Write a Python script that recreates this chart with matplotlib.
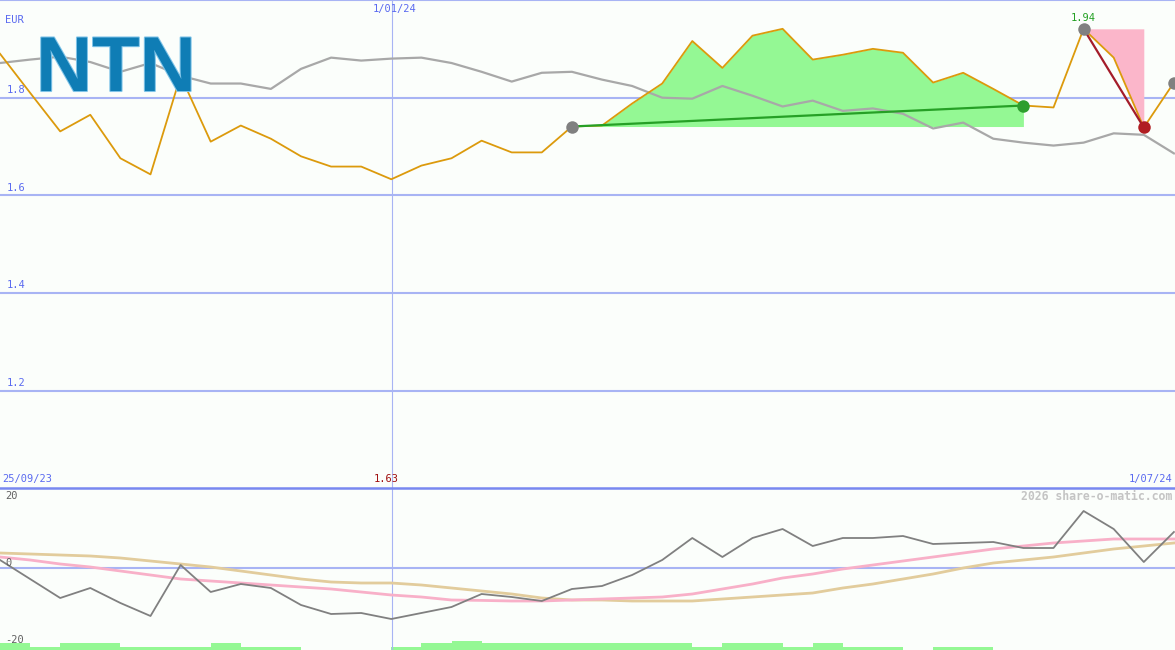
import matplotlib
matplotlib.use("Agg")
import matplotlib.pyplot as plt
import numpy as np
from matplotlib import patheffects as pe

# ---- data (weekly points) ----
price = [1.890, 1.810, 1.731, 1.765, 1.676, 1.643, 1.845, 1.710, 1.743, 1.716,
         1.680, 1.659, 1.659, 1.633, 1.661, 1.676, 1.712, 1.688, 1.688, 1.741,
         1.743, 1.788, 1.829, 1.916, 1.861, 1.927, 1.941, 1.878, 1.888, 1.900,
         1.892, 1.831, 1.851, 1.818, 1.784, 1.780, 1.941, 1.882, 1.739, 1.831]
avg_line = [1.871, 1.878, 1.884, 1.873, 1.853, 1.871, 1.845, 1.829, 1.829, 1.818,
            1.859, 1.882, 1.876, 1.880, 1.882, 1.871, 1.853, 1.833, 1.851, 1.853,
            1.837, 1.824, 1.800, 1.798, 1.824, 1.804, 1.782, 1.794, 1.773, 1.778,
            1.767, 1.737, 1.749, 1.716, 1.708, 1.702, 1.708, 1.727, 1.724, 1.686]
momentum = [2, -2.75, -7.5, -5, -8.75, -12, 0.75, -6, -4, -5,
            -9.25, -11.5, -11.25, -12.75, -11.25, -9.75, -6.5, -7.25, -8.25, -5.25,
            -4.5, -1.75, 2, 7.5, 2.75, 7.5, 9.75, 5.5, 7.5, 7.5,
            8, 6, 6.25, 6.5, 5, 5, 14.25, 9.75, 1.5, 9]
osc_fast = [2.75, 2, 1, 0.25, -0.75, -1.75, -2.75, -3.25, -3.75, -4.25,
            -4.75, -5.25, -6, -6.75, -7.25, -8, -8.1, -8.25, -8.25, -8,
            -7.75, -7.5, -7.25, -6.5, -5.25, -4, -2.5, -1.5, -0.25, 0.75,
            1.75, 2.75, 3.75, 4.75, 5.5, 6.25, 6.75, 7.25, 7.25, 7.25]
osc_slow = [3.75, 3.5, 3.25, 3, 2.5, 1.75, 1, 0.25, -0.75, -1.75,
            -2.75, -3.5, -3.75, -3.75, -4.25, -5, -5.75, -6.5, -7.5, -8,
            -8, -8.25, -8.25, -8.25, -7.75, -7.25, -6.75, -6.25, -5, -4,
            -2.75, -1.5, 0, 1.25, 2, 2.75, 3.75, 4.75, 5.5, 6.25]
volume = [70, 30, 70, 70, 30, 30, 30, 70, 30, 30,
          0, 0, 0, 30, 70, 90, 70, 70, 70, 70,
          70, 70, 70, 30, 70, 70, 30, 70, 30, 30,
          0, 30, 30, 0, 0, 0, 0, 0, 0, 0]
price_ticks = [1.2, 1.4, 1.6, 1.8, 2.0]
osc_ticks = [20, 0, -20]
start_label, end_label, mid_label = "25/09/23", "1/07/24", "1/01/24"
currency = "EUR"
rise_start, rise_end = 19, 34
fall_start, fall_end = 36, 38
max_idx, min_idx, last_idx = 36, 13, 39

# ---- style ----
BG = "#fbfefb"
GRID = "#a8b4f4"
BLUE_TXT = "#5a6af0"
MONO = ["DejaVu Sans Mono"]
W, H = 1175, 650
STEP = 30.1
x = np.arange(len(price))
xmax = W / STEP
jan_pos = 392 / STEP

fig = plt.figure(figsize=(W / 100, H / 100), dpi=100, facecolor=BG)
top_h = 487
ax = fig.add_axes([0, 1 - top_h / H, 1, top_h / H])
axb = fig.add_axes([0, 0, 1, (H - top_h) / H])
for a in (ax, axb):
    a.set_facecolor(BG)
    a.set_xlim(0, xmax)
    for s in a.spines.values():
        s.set_visible(False)
    a.set_xticks([])
    a.set_yticks([])

ax.set_ylim(1.003, 2.0)
axb.set_ylim(-20.5, 20.25)

# grid
for t in price_ticks:
    ax.axhline(t, color=GRID, lw=1.5, zorder=1)
    if t < 2.0:
        ax.annotate(f"{t:.1f}", (0, t), xytext=(5, 2), textcoords="offset points",
                    color=BLUE_TXT, fontsize=7.5, family=MONO, va="bottom", ha="left")
ax.axvline(jan_pos, color=GRID, lw=0.8, zorder=1)
axb.axvline(jan_pos, color=GRID, lw=0.8, zorder=1)
axb.axhline(0, color=GRID, lw=1.5, zorder=1)

# logo
fig.text(36 / W, 1 - 91 / H, "NTN", family=["Liberation Sans"], fontweight="bold",
         fontsize=56, color="#0f7db5", ha="left", va="baseline", zorder=0,
         path_effects=[pe.withStroke(linewidth=1.5, foreground="#80c4e8")])

# fills
xr = x[rise_start:rise_end + 1]
pr = np.array(price[rise_start:rise_end + 1])
ax.fill_between(xr, pr, price[rise_start], where=pr >= price[rise_start],
                interpolate=True, color="#94f894", lw=0, zorder=2)
xf = x[fall_start:fall_end + 1]
pf = np.array(price[fall_start:fall_end + 1])
ax.fill_between(xf, pf, price[fall_start], color="#fbb6ca", lw=0, zorder=2)

# lines
ax.plot(x, avg_line, color="#a8a8a8", lw=1.6, zorder=3)
ax.plot(x, price, color="#dc9a0c", lw=1.3, zorder=4)
ax.plot([rise_start, rise_end], [price[rise_start], price[rise_end]], color="#26a026", lw=1.6, zorder=5)
ax.plot([fall_start, fall_end], [price[fall_start], price[fall_end]], color="#a41c2a", lw=1.6, zorder=5)

# markers
ms = 9
ax.plot(rise_start, price[rise_start], "o", color="#808080", ms=ms, mew=0, zorder=6)
ax.plot(rise_end, price[rise_end], "o", color="#2e9e2e", ms=ms, mew=0, zorder=6)
ax.plot(fall_start, price[fall_start], "o", color="#808080", ms=ms, mew=0, zorder=6)
ax.plot(fall_end, price[fall_end], "o", color="#b01e22", ms=ms, mew=0, zorder=6)
ax.plot(last_idx, price[last_idx], "o", color="#808080", ms=ms, mew=0, zorder=6, clip_on=False)

# labels top
ax.annotate(f"{price[max_idx]:.2f}", (max_idx, price[max_idx]), xytext=(0, 4),
            textcoords="offset points", color="#22a022", fontsize=7.5, family=MONO,
            ha="center", va="bottom", zorder=7)
fig.text(5 / W, 1 - 20 / H, currency, color=BLUE_TXT, fontsize=7.5, family=MONO,
         ha="left", va="center")
fig.text(395 / W, 1 - 9 / H, mid_label, color=BLUE_TXT, fontsize=7.5, family=MONO,
         ha="center", va="center")
fig.text(2 / W, 1 - 479 / H, start_label, color=BLUE_TXT, fontsize=7.5, family=MONO,
         ha="left", va="center")
fig.text(1172 / W, 1 - 479 / H, end_label, color=BLUE_TXT, fontsize=7.5, family=MONO,
         ha="right", va="center")
fig.text(386 / W, 1 - 479 / H, f"{price[min_idx]:.2f}", color="#a01010", fontsize=7.5,
         family=MONO, ha="center", va="center")

# separator
fig.add_artist(plt.Line2D([0, 1], [1 - 487.5 / H] * 2, color="#7888f0", lw=1.8))

# bottom panel
axv = axb.twinx()
axv.set_ylim(0, 1630)
axv.set_yticks([])
for s in axv.spines.values():
    s.set_visible(False)
axv.bar(x, volume, width=1.0, align="edge", color="#94f894", lw=0, zorder=1)
axb.set_zorder(axv.get_zorder() + 1)
axb.patch.set_visible(False)
axv.patch.set_facecolor(BG)

axb.plot(x, osc_slow, color="#e2cc9c", lw=2.0, zorder=3)
axb.plot(x, osc_fast, color="#f8b0c8", lw=2.0, zorder=3)
axb.plot(x, momentum, color="#808080", lw=1.3, zorder=4)

fig.text(5 / W, 1 - 496 / H, f"{osc_ticks[0]}", color="#606060", fontsize=7.5, family=MONO,
         ha="left", va="center")
fig.text(5 / W, 1 - 563 / H, f"{osc_ticks[1]}", color="#606060", fontsize=7.5, family=MONO,
         ha="left", va="center")
fig.text(5 / W, 1 - 640 / H, f"{osc_ticks[2]}", color="#606060", fontsize=7.5, family=MONO,
         ha="left", va="center")
fig.text(1172 / W, 1 - 496 / H, "2026 share-o-matic.com", color="#c4c4c4", fontsize=8.3,
         family=MONO, fontweight="bold", ha="right", va="center")

fig.savefig("out.png", dpi=100, facecolor=BG)
